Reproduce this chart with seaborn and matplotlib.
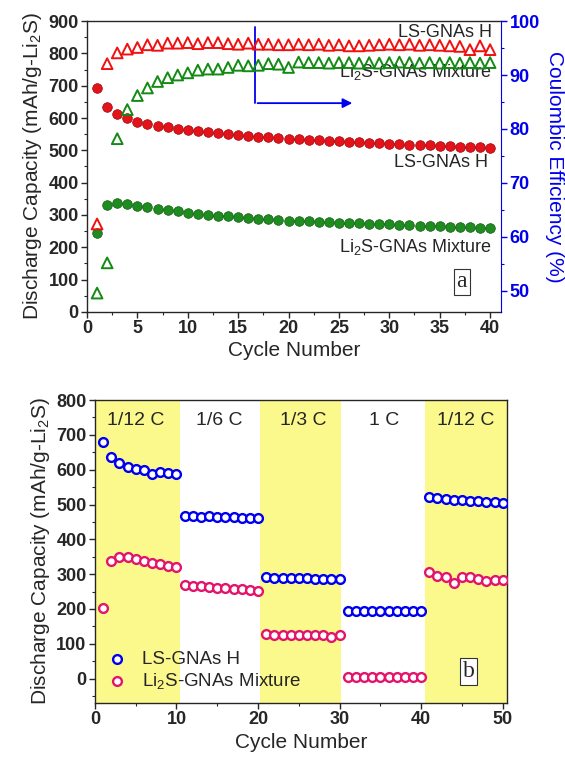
import numpy as np
import pandas as pd
import seaborn as sns
import matplotlib
matplotlib.use("Agg")
import matplotlib.pyplot as plt
from matplotlib.ticker import MultipleLocator

# ---- panel a: cycling at fixed rate ----
cycles_a = list(range(1, 41))
cap_h = [692, 635, 612, 599, 588, 581, 575, 571, 565, 563, 559, 556, 553, 549, 546, 545, 541, 540, 537, 536,
         534, 533, 531, 530, 529, 527, 526, 524, 523, 521, 520, 518, 517, 515, 514, 513, 511, 510, 509, 508]
cap_m = [243, 331, 336, 333, 329, 324, 319, 315, 311, 307, 304, 300, 298, 296, 294, 291, 289, 287, 285, 282,
         281, 280, 279, 278, 276, 275, 274, 273, 272, 271, 270, 268, 267, 266, 265, 264, 263, 262, 260, 259]
ce_h = [62.4, 92.1, 94.1, 94.8, 95.1, 95.6, 95.5, 95.9, 95.9, 96.0, 95.8, 96.0, 96.0, 95.8, 95.7, 95.9, 95.7, 95.7, 95.6, 95.6,
        95.7, 95.6, 95.7, 95.5, 95.6, 95.4, 95.4, 95.5, 95.6, 95.7, 95.6, 95.7, 95.5, 95.6, 95.5, 95.4, 95.3, 94.7, 95.4, 94.7]
ce_m = [49.6, 55.2, 78.2, 83.6, 86.2, 87.6, 88.8, 89.5, 90.0, 90.4, 90.9, 91.1, 91.1, 91.4, 91.8, 91.7, 91.8, 92.1, 92.0, 91.4,
        92.4, 92.3, 92.3, 92.2, 92.3, 92.3, 92.2, 92.3, 92.2, 92.3, 92.4, 92.3, 92.2, 92.3, 92.2, 92.3, 92.2, 92.3, 92.2, 92.3]

# ---- panel b: rate capability ----
cycles_b = list(range(1, 51))
rate_h = [680, 637, 620, 607, 603, 599, 589, 594, 591, 587,
          466, 466, 465, 466, 464, 463, 463, 462, 461, 460,
          291, 290, 289, 288, 288, 288, 287, 287, 286, 286,
          195, 195, 194, 194, 194, 194, 194, 194, 193, 193,
          521, 518, 515, 513, 512, 510, 509, 507, 506, 504]
rate_m = [203, 339, 350, 348, 343, 338, 333, 329, 324, 322,
          270, 267, 265, 263, 261, 259, 257, 256, 254, 252,
          128, 126, 125, 126, 125, 125, 125, 125, 121, 124,
          6, 6, 6, 6, 6, 6, 6, 6, 6, 6,
          306, 296, 293, 276, 293, 291, 287, 279, 284, 282]
rate_labels = ["1/12 C", "1/6 C", "1/3 C", "1 C", "1/12 C"]
rate_label_x = [5.0, 15.2, 25.5, 35.5, 45.5]
yellow_spans = [(0, 10.4), (20.3, 30.2), (40.5, 50.5)]

sns.set_style("ticks")
plt.rcParams["font.family"] = ["Liberation Sans", "DejaVu Sans"]
plt.rcParams["mathtext.fontset"] = "custom"
plt.rcParams["mathtext.rm"] = "Liberation Sans"
plt.rcParams["mathtext.it"] = "Liberation Sans:italic"

RED = "#e3131b"
GREEN = "#1f8c1f"
BLUE = "#0000ee"
PINK = "#e3146c"
YELLOW = "#fcf98c"
YLABEL = "Discharge Capacity (mAh/g-Li$_2$S)"
MIX = "Li$_2$S-GNAs Mixture"


def style_ticks(a):
    a.tick_params(which="major", length=4, width=1, labelsize=13, direction="out", pad=2)
    a.tick_params(which="minor", length=2.5, width=0.8, direction="out")
    for lab in a.get_xticklabels() + a.get_yticklabels():
        lab.set_fontweight("bold")


fig = plt.figure(figsize=(5.65, 7.62), dpi=100)
ax = fig.add_axes([0.154, 0.5906, 0.733, 0.3818])
ax2 = ax.twinx()

df_a = pd.DataFrame({"cycle": cycles_a, "cap_h": cap_h, "cap_m": cap_m, "ce_h": ce_h, "ce_m": ce_m})

sns.scatterplot(data=df_a, x="cycle", y="cap_h", ax=ax, marker="o", s=48, color=RED,
                edgecolor="#a00000", linewidth=0.5, zorder=3)
sns.scatterplot(data=df_a, x="cycle", y="cap_m", ax=ax, marker="o", s=48, color=GREEN,
                edgecolor="#0e5a0e", linewidth=0.5, zorder=3)
sns.scatterplot(data=df_a, x="cycle", y="ce_h", ax=ax2, marker="^", s=60, facecolor="none",
                edgecolor="#f01010", linewidth=1.4, zorder=3)
sns.scatterplot(data=df_a, x="cycle", y="ce_m", ax=ax2, marker="^", s=60, facecolor="none",
                edgecolor="#138a13", linewidth=1.4, zorder=3)

ax.set_xlim(0, 41.1)
ax.set_ylim(0, 900)
ax2.set_ylim(46.1, 100)
ax.xaxis.set_major_locator(MultipleLocator(5))
ax.xaxis.set_minor_locator(MultipleLocator(2.5))
ax.yaxis.set_major_locator(MultipleLocator(100))
ax.yaxis.set_minor_locator(MultipleLocator(50))
ax2.yaxis.set_major_locator(MultipleLocator(10))
ax2.yaxis.set_minor_locator(MultipleLocator(5))

ax.set_xlabel("Cycle Number", fontsize=15, labelpad=3)
ax.set_ylabel(YLABEL, fontsize=15, labelpad=3)
ax2.set_ylabel("Coulombic Efficiency (%)", fontsize=15, color=BLUE, rotation=270,
               va="bottom", labelpad=4)

style_ticks(ax)
style_ticks(ax2)
ax2.tick_params(axis="y", which="both", colors=BLUE)
for lab in ax2.get_yticklabels():
    lab.set_color(BLUE)
ax2.spines["right"].set_color(BLUE)
ax.spines["right"].set_visible(False)
for sp in ["top", "left", "bottom"]:
    ax.spines[sp].set_linewidth(1)
    ax2.spines[sp].set_visible(False)
ax.spines["top"].set_visible(True)

# blue arrow pointing to right axis
ax.plot([16.7, 16.7], [881, 646], color=BLUE, lw=1.3, zorder=4)
ax.annotate("", xy=(26.6, 646), xytext=(16.65, 646),
            arrowprops=dict(arrowstyle="-|>", color=BLUE, lw=1.3, mutation_scale=14), zorder=4)

ax.text(40.2, 863, "LS-GNAs H", ha="right", va="center", fontsize=13)
ax.text(40.2, 742, MIX, ha="right", va="center", fontsize=13)
ax.text(39.8, 461, "LS-GNAs H", ha="right", va="center", fontsize=13)
ax.text(40.2, 201, MIX, ha="right", va="center", fontsize=13)
ax.text(37.2, 93, "a", ha="center", va="center", fontsize=17, family="Liberation Serif",
        bbox=dict(boxstyle="square,pad=0.12", fc="white", ec="#333333", lw=0.8), zorder=5)

# ---- panel b ----
bx = fig.add_axes([0.168, 0.0774, 0.729, 0.3976])
for x0, x1 in yellow_spans:
    bx.axvspan(x0, x1, color=YELLOW, lw=0, zorder=0)

df_b = pd.DataFrame({"cycle": cycles_b * 2,
                     "capacity": rate_h + rate_m,
                     "sample": ["LS-GNAs H"] * 50 + [MIX] * 50})
for name, col in [("LS-GNAs H", BLUE), (MIX, PINK)]:
    sub = df_b[df_b["sample"] == name]
    sns.scatterplot(data=sub, x="cycle", y="capacity", ax=bx, marker="o", s=40,
                    facecolor="white", edgecolor=col, linewidth=1.7, label=name, zorder=3)

for lbl, xc in zip(rate_labels, rate_label_x):
    bx.text(xc, 742, lbl, ha="center", va="center", fontsize=14)

bx.text(45.8, 20, "b", ha="center", va="center", fontsize=17, family="Liberation Serif",
        bbox=dict(boxstyle="square,pad=0.12", fc="white", ec="#333333", lw=0.8), zorder=5)

bx.set_xlim(0, 50.5)
bx.set_ylim(-70, 800)
bx.xaxis.set_major_locator(MultipleLocator(10))
bx.xaxis.set_minor_locator(MultipleLocator(5))
bx.yaxis.set_major_locator(MultipleLocator(100))
bx.yaxis.set_minor_locator(MultipleLocator(50))
style_ticks(bx)
for sp in bx.spines.values():
    sp.set_visible(True)
    sp.set_linewidth(1)
bx.set_xlabel("Cycle Number", fontsize=15, labelpad=3)
bx.set_ylabel(YLABEL, fontsize=15, labelpad=3)

leg = bx.legend(loc="lower left", bbox_to_anchor=(0.0, -0.005), frameon=False, fontsize=13.5,
                handlelength=1.0, handletextpad=0.8, labelspacing=0.2, borderaxespad=0.3)

fig.savefig("out.png", dpi=100)
